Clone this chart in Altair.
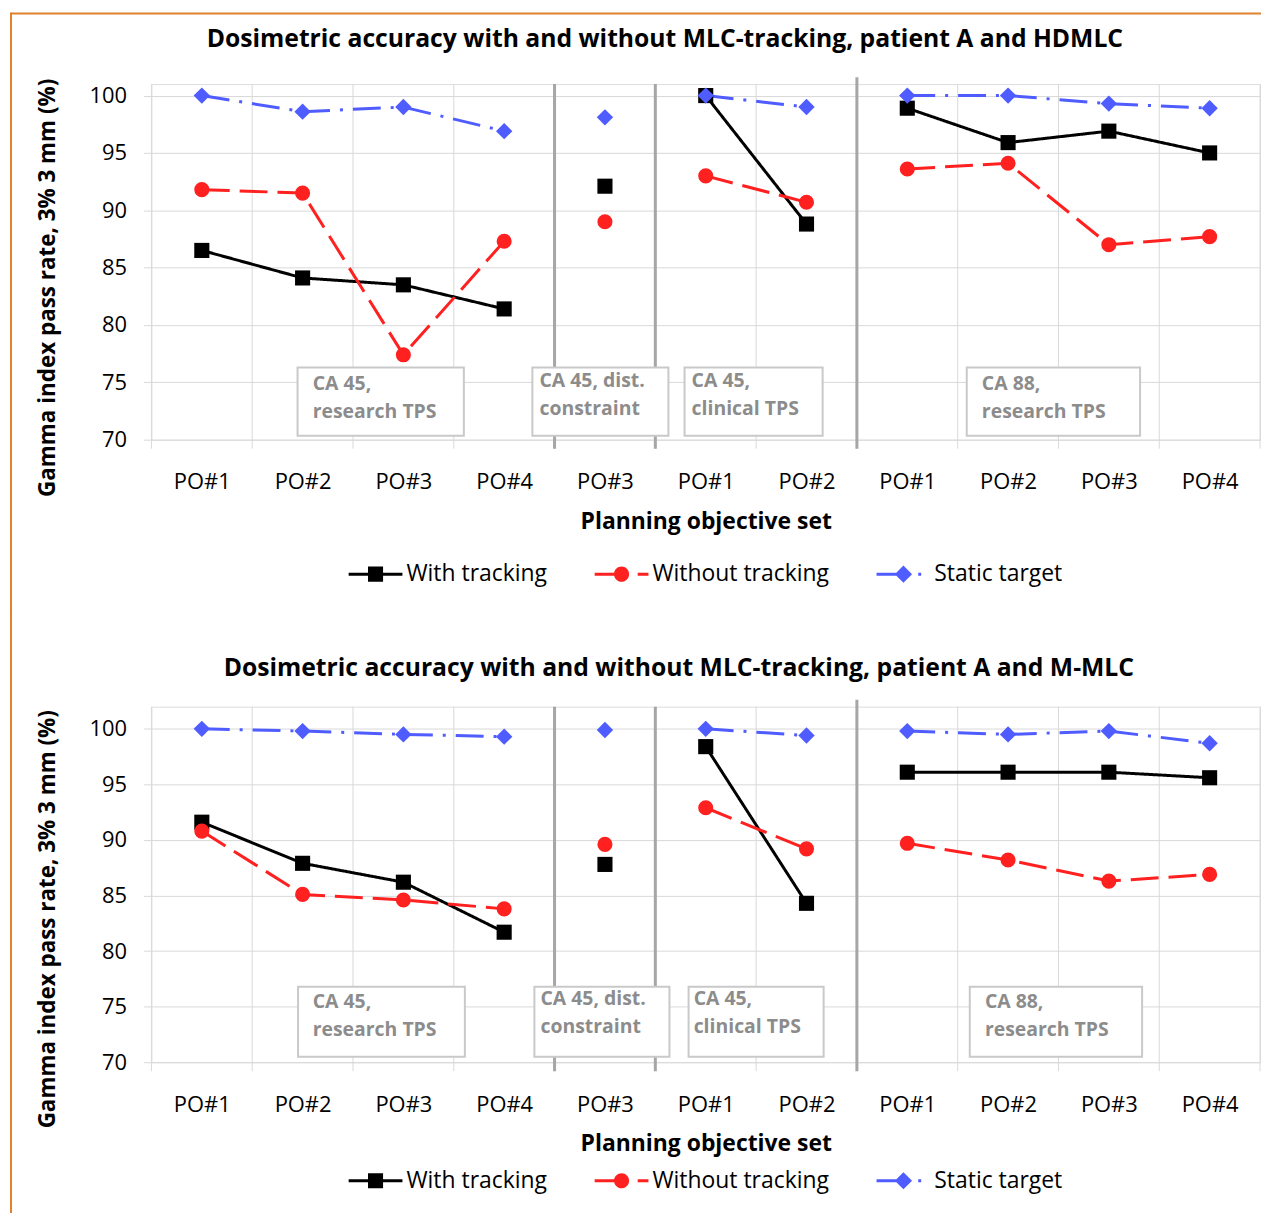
import altair as alt
import pandas as pd

# ---------------- data ----------------
titles = ["Dosimetric accuracy with and without MLC-tracking, patient A and HDMLC",
          "Dosimetric accuracy with and without MLC-tracking, patient A and M-MLC"]
categories = ["PO#1", "PO#2", "PO#3", "PO#4", "PO#3", "PO#1", "PO#2",
              "PO#1", "PO#2", "PO#3", "PO#4"]
groups = [0, 0, 0, 0, 1, 2, 2, 3, 3, 3, 3]
series_names = ["With tracking", "Without tracking", "Static target"]

hd_with = [86.5, 84.1, 83.5, 81.4, 92.1, 100.0, 88.8, 98.9, 95.9, 96.9, 95.0]
hd_without = [91.8, 91.5, 77.4, 87.3, 89.0, 93.0, 90.7, 93.6, 94.1, 87.0, 87.7]
hd_static = [100.0, 98.6, 99.0, 96.9, 98.1, 100.0, 99.0, 100.0, 100.0, 99.3, 98.9]

mm_with = [91.6, 87.9, 86.2, 81.7, 87.8, 98.4, 84.3, 96.1, 96.1, 96.1, 95.6]
mm_without = [90.8, 85.1, 84.6, 83.8, 89.6, 92.9, 89.2, 89.7, 88.2, 86.3, 86.9]
mm_static = [100.0, 99.8, 99.5, 99.3, 99.9, 100.0, 99.4, 99.8, 99.5, 99.8, 98.7]

box_texts = ["CA 45,\nresearch TPS", "CA 45, dist.\nconstraint",
             "CA 45,\nclinical TPS", "CA 88,\nresearch TPS"]

# annotation placement (data units)
hd_boxes = dict(x1=[0.95, 3.28, 4.79, 7.59], x2=[2.60, 4.63, 6.16, 9.31],
                y1=[76.3, 76.3, 76.3, 76.3], y2=[70.35, 70.35, 70.35, 70.35],
                tx=[1.10, 3.35, 4.86, 7.74], ty=[75.6, 75.9, 75.9, 75.6])
mm_boxes = dict(x1=[0.955, 3.30, 4.83, 7.62], x2=[2.61, 4.64, 6.17, 9.33],
                y1=[76.8, 76.8, 76.8, 76.8], y2=[70.5, 70.5, 70.5, 70.5],
                tx=[1.10, 3.36, 4.88, 7.77], ty=[76.2, 76.5, 76.5, 76.2])

# ---------------- styling ----------------
FONT = "Open Sans"
W, H = 1113, 357
COLORS = ["#000000", "#ff2020", "#4f5cff"]
SHAPES = ["square", "circle", "diamond"]
DASHES = [[1, 0], [28, 10], [28, 10, 3, 10]]
SIZES = [230, 230, 270]
GRID = "#d9d9d9"
FRAME = "#e0812e"

LEGEND_PATHS = [
    "M-1,-0.056H1V0.056H-1Z M-0.28,-0.28H0.28V0.28H-0.28Z",
    "M-1,-0.056H-0.2V0.056H-1Z M0.28,0A0.28,0.28 0 1,1 -0.28,0A0.28,0.28 0 1,1 0.28,0Z M0.6,-0.056H1V0.056H0.6Z",
    "M-1,-0.056H-0.2V0.056H-1Z M0,-0.32L0.32,0L0,0.32L-0.32,0Z M0.55,-0.056H0.66V0.056H0.55Z",
]

label_expr = "[" + ",".join("'%s'" % c for c in categories) + "][datum.value]"
boundaries = [i - 0.5 for i in range(len(categories) + 1)]
seps = [i + 0.5 for i in range(len(groups) - 1) if groups[i] != groups[i + 1]]


def make_panel(title, values, boxes, ymax, legend_y, title_y, title_dx,
               frame_top, frame_bottom, top_line, ytitle_y):
    rows = []
    for s, vals in zip(series_names, values):
        for i, v in enumerate(vals):
            rows.append(dict(idx=i, series=s, value=v, grp=groups[i]))
    df = pd.DataFrame(rows)

    xscale = alt.Scale(domain=[-0.5, len(categories) - 0.5], nice=False, zero=False)
    yscale = alt.Scale(domain=[70, ymax], nice=False, zero=False)
    xaxis = alt.Axis(values=list(range(len(categories))), labelExpr=label_expr,
                     grid=False, ticks=False, domain=False, labelFontSize=22,
                     labelFont=FONT, labelColor="#000", labelPadding=32,
                     title="Planning objective set", titleFontSize=23,
                     titleFont=FONT, titleFontWeight="bold", titleColor="#000",
                     titlePadding=18)
    yaxis = alt.Axis(values=[70, 75, 80, 85, 90, 95, 100], grid=True,
                     gridColor=GRID, ticks=True, tickColor=GRID, tickSize=8,
                     domain=False, labelFontSize=22, labelFont=FONT,
                     labelColor="#000", labelPadding=17,
                     title="Gamma index pass rate, 3% 3 mm (%)",
                     titleFontSize=22.5, titleFont=FONT, titleFontWeight="bold",
                     titleColor="#000", titlePadding=30, titleY=ytitle_y)

    def X(f):
        return alt.X(f, type="quantitative", scale=xscale, axis=xaxis)

    def Y(f):
        return alt.Y(f, type="quantitative", scale=yscale, axis=yaxis)

    base = alt.Chart(df)

    vgrid = alt.Chart(pd.DataFrame({"x": boundaries})).mark_rule(
        color=GRID, strokeWidth=1).encode(
        x=X("x"), y=alt.value(0), y2=alt.value(H + 9))

    sep_df = pd.DataFrame({"x": seps, "tall": [i == len(seps) - 1 for i in range(len(seps))]})
    sep_a = alt.Chart(sep_df).transform_filter("!datum.tall").mark_rule(
        color="#a6a6a6", strokeWidth=3).encode(
        x=X("x"), y=alt.value(0), y2=alt.value(H + 9))
    sep_b = alt.Chart(sep_df).transform_filter("datum.tall").mark_rule(
        color="#a6a6a6", strokeWidth=3).encode(
        x=X("x"), y=alt.value(-7), y2=alt.value(H + 9))

    bdf = pd.DataFrame(dict(boxes, text=box_texts))
    rects = alt.Chart(bdf).mark_rect(fill="white", stroke="#c9c9c9",
                                     strokeWidth=2).encode(
        x=X("x1"), x2="x2", y=Y("y1"), y2="y2")
    texts = alt.Chart(bdf).mark_text(
        align="left", baseline="top", lineBreak="\n", lineHeight=28,
        fontSize=19.5, fontWeight="bold", font=FONT, color="#8c8c8c").encode(
        x=X("tx"), y=Y("ty"), text="text:N")

    lines = []
    points = []
    for s, c, sh, d, sz in zip(series_names, COLORS, SHAPES, DASHES, SIZES):
        sub = base.transform_filter(alt.datum.series == s)
        lines.append(sub.mark_line(color=c, strokeWidth=3, strokeDash=d).encode(
            x=X("idx"), y=Y("value"), detail="grp:N"))
        points.append(sub.mark_point(shape=sh, filled=True, color=c, size=sz,
                                     opacity=1).encode(x=X("idx"), y=Y("value")))

    legend_layer = alt.Chart(pd.DataFrame({"series": series_names})).transform_filter(
        "false").mark_point(filled=True, opacity=1).encode(
        color=alt.Color("series:N", scale=alt.Scale(domain=series_names, range=COLORS),
                        legend=alt.Legend(orient="none", direction="horizontal",
                                          legendX=198, legendY=legend_y,
                                          title=None, labelFontSize=23,
                                          labelFont=FONT, labelColor="#000",
                                          labelLimit=0, symbolOpacity=1,
                                          symbolSize=2916, symbolStrokeWidth=0,
                                          labelOffset=4, columnPadding=47)),
        shape=alt.Shape("series:N", scale=alt.Scale(domain=series_names,
                                                    range=LEGEND_PATHS)))

    # figure frame (decoration)
    one = pd.DataFrame({"t": [title]})
    frame = [alt.Chart(one).mark_rule(color=FRAME, strokeWidth=2,
                                      strokeCap="square").encode(
        x=alt.value(-141), y=alt.value(frame_top), y2=alt.value(frame_bottom))]
    if top_line:
        frame.append(alt.Chart(one).mark_rule(color=FRAME, strokeWidth=2).encode(
            x=alt.value(-141), x2=alt.value(W + 1), y=alt.value(frame_top)))

    title_mark = alt.Chart(one).mark_text(
        fontSize=24.8, font=FONT, fontWeight="bold", color="#000",
        align="center", baseline="middle").encode(
        x=alt.value(W / 2 + title_dx), y=alt.value(title_y), text="t:N")

    layers = frame + [vgrid, sep_a, sep_b, rects, texts] + lines + points + \
        [legend_layer, title_mark]
    return alt.layer(*layers).properties(width=W, height=H)


top = make_panel(titles[0], [hd_with, hd_without, hd_static], hd_boxes, 101,
                 465, -44, -41, -71, H + 176, True, 204)
bottom = make_panel(titles[1], [mm_with, mm_without, mm_static], mm_boxes, 102,
                    449, -38, -27, -93, H + 152, False, 213)

chart = alt.vconcat(top, bottom, spacing=-5).resolve_scale(
    color="independent", shape="independent").resolve_legend(
    color="independent", shape="independent").configure_view(
    stroke=None).configure(padding={"left": 1, "top": 1, "right": 1, "bottom": 0})

chart.save("out.html", embed_options={"renderer": "svg", "actions": False})
